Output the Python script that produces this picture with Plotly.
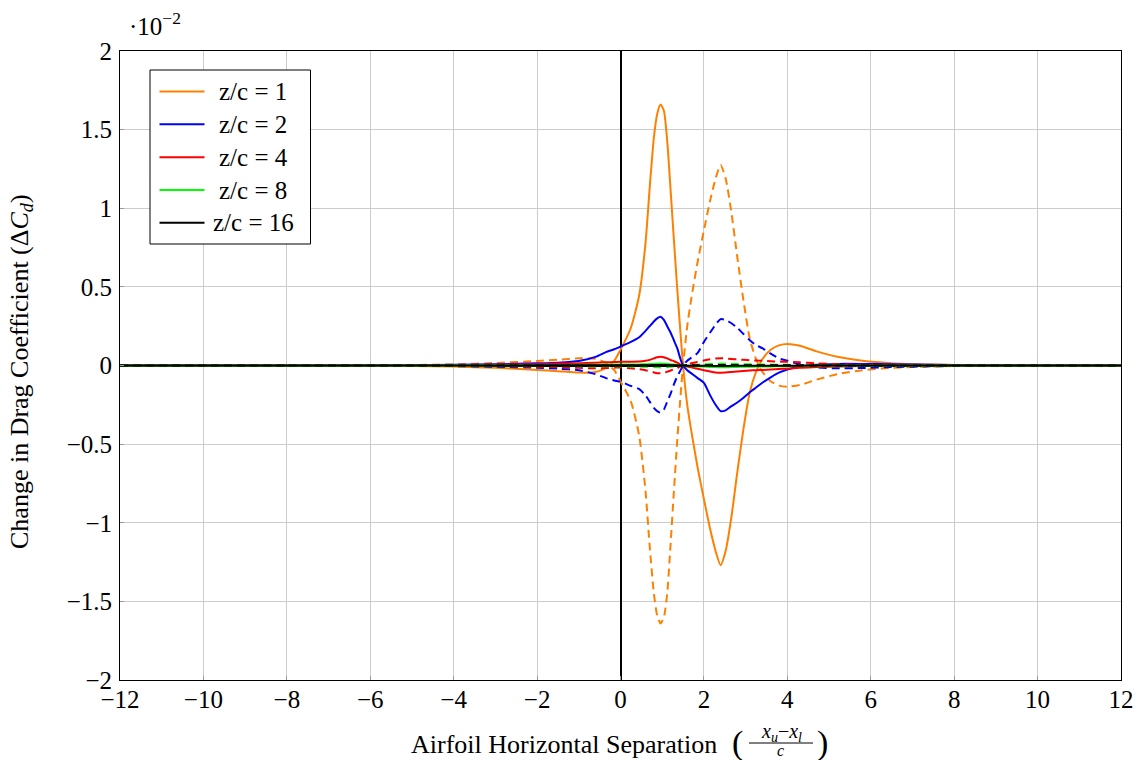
import plotly.graph_objects as go

# Horizontal separation (x_u - x_l)/c
x_sep = [-12, -10, -8, -6, -5, -4, -3, -2, -1.5, -1, -0.6, -0.35, -0.15, 0, 0.25, 0.45, 0.6, 0.7,
         0.8, 0.88, 0.96, 1.04, 1.12, 1.2, 1.28, 1.36, 1.44, 1.5, 1.6, 1.7, 1.85, 2.0, 2.15, 2.28,
         2.4, 2.52, 2.65, 2.8, 2.95, 3.1, 3.25, 3.4, 3.6, 3.8, 4.0, 4.3, 4.7, 5.2, 5.8, 6.5, 7.5,
         8.5, 10, 12]

# Change in drag coefficient (x 1e-2), solid = upper airfoil, dashed = lower airfoil
zc1_solid = [0, 0, 0, -0.001, -0.003, -0.007, -0.015, -0.028, -0.036, -0.045, -0.042, -0.015, 0.03,
             0.1, 0.24, 0.45, 0.78, 1.13, 1.45, 1.6, 1.66, 1.62, 1.43, 1.12, 0.8, 0.49, 0.2, 0.0,
             -0.25, -0.42, -0.65, -0.85, -1.04, -1.18, -1.27, -1.18, -0.98, -0.68, -0.40, -0.17,
             -0.04, 0.04, 0.10, 0.128, 0.137, 0.125, 0.09, 0.055, 0.03, 0.015, 0.006, 0.002, 0, 0]
zc1_dashed = [0, 0, 0, 0.001, 0.003, 0.007, 0.016, 0.029, 0.037, 0.046, 0.043, 0.016, -0.03,
              -0.1, -0.23, -0.45, -0.8, -1.15, -1.45, -1.59, -1.64, -1.6, -1.45, -1.14, -0.8,
              -0.48, -0.19, 0.0, 0.25, 0.43, 0.66, 0.86, 1.05, 1.19, 1.275, 1.19, 0.99, 0.69, 0.41,
              0.17, 0.04, -0.04, -0.10, -0.128, -0.135, -0.124, -0.09, -0.055, -0.03, -0.015,
              -0.006, -0.002, 0, 0]

zc2_solid = [0, 0, 0, 0.001, 0.002, 0.004, 0.008, 0.014, 0.018, 0.028, 0.055, 0.085, 0.103, 0.12,
             0.15, 0.18, 0.22, 0.25, 0.28, 0.30, 0.31, 0.29, 0.25, 0.21, 0.16, 0.11, 0.04, 0.0,
             -0.03, -0.05, -0.08, -0.11, -0.19, -0.25, -0.29, -0.285, -0.26, -0.235, -0.205,
             -0.17, -0.14, -0.11, -0.075, -0.045, -0.025, -0.008, 0.005, 0.01, 0.01, 0.008,
             0.004, 0.002, 0, 0]
zc2_dashed = [0, 0, 0, -0.001, -0.002, -0.004, -0.008, -0.014, -0.02, -0.03, -0.055, -0.08,
              -0.095, -0.103, -0.13, -0.15, -0.19, -0.23, -0.27, -0.29, -0.30, -0.28, -0.23,
              -0.18, -0.12, -0.07, -0.03, 0.0, 0.03, 0.05, 0.08, 0.15, 0.21, 0.26, 0.295, 0.29,
              0.27, 0.24, 0.2, 0.16, 0.13, 0.11, 0.075, 0.045, 0.03, 0.008, -0.012, -0.018,
              -0.016, -0.01, -0.005, -0.002, 0, 0]

zc4_solid = [0, 0, 0, 0, 0.001, 0.002, 0.004, 0.008, 0.012, 0.015, 0.018, 0.02, 0.022, 0.024,
             0.024, 0.025, 0.03, 0.036, 0.045, 0.052, 0.056, 0.053, 0.045, 0.035, 0.027, 0.018,
             0.006, 0.0, -0.006, -0.012, -0.02, -0.03, -0.038, -0.044, -0.046, -0.045, -0.042,
             -0.038, -0.035, -0.032, -0.03, -0.028, -0.025, -0.022, -0.02, -0.015, -0.01,
             -0.006, -0.003, -0.001, 0, 0, 0, 0]
zc4_dashed = [0, 0, 0, 0, -0.001, -0.002, -0.004, -0.008, -0.012, -0.015, -0.018, -0.016,
              -0.014, -0.012, -0.018, -0.024, -0.03, -0.036, -0.044, -0.049, -0.05, -0.047,
              -0.04, -0.032, -0.024, -0.016, -0.006, 0.0, 0.008, 0.014, 0.022, 0.032, 0.04,
              0.045, 0.046, 0.045, 0.042, 0.039, 0.036, 0.034, 0.032, 0.03, 0.027, 0.025, 0.024,
              0.02, 0.014, 0.008, 0.004, 0.001, 0, 0, 0, 0]

zc8_solid = [0, 0, 0, 0, 0, 0.001, 0.001, 0.002, 0.003, 0.004, 0.005, 0.006, 0.006, 0.007,
             0.007, 0.007, 0.008, 0.009, 0.01, 0.011, 0.012, 0.011, 0.01, 0.008, 0.006, 0.004,
             0.001, 0.0, -0.002, -0.003, -0.005, -0.007, -0.009, -0.01, -0.011, -0.011, -0.01,
             -0.009, -0.008, -0.008, -0.007, -0.006, -0.006, -0.005, -0.004, -0.003, -0.002,
             -0.001, 0, 0, 0, 0, 0, 0]
zc8_dashed = [0, 0, 0, 0, 0, -0.001, -0.001, -0.002, -0.003, -0.004, -0.005, -0.005, -0.005,
              -0.005, -0.006, -0.007, -0.008, -0.009, -0.01, -0.011, -0.012, -0.011, -0.01,
              -0.008, -0.006, -0.004, -0.001, 0.0, 0.002, 0.003, 0.005, 0.007, 0.009, 0.01,
              0.011, 0.011, 0.01, 0.009, 0.008, 0.008, 0.007, 0.006, 0.006, 0.005, 0.004, 0.003,
              0.002, 0.001, 0, 0, 0, 0, 0, 0]

zc16_solid = [0, 0, 0, 0, 0, 0, 0, 0.001, 0.001, 0.001, 0.001, 0.001, 0.002, 0.002, 0.002,
              0.002, 0.002, 0.002, 0.003, 0.003, 0.003, 0.003, 0.002, 0.002, 0.001, 0.001, 0,
              0, -0.001, -0.001, -0.001, -0.002, -0.002, -0.003, -0.003, -0.003, -0.002, -0.002,
              -0.002, -0.002, -0.002, -0.001, -0.001, -0.001, -0.001, -0.001, 0, 0, 0, 0, 0, 0,
              0, 0]
zc16_dashed = [0, 0, 0, 0, 0, 0, 0, -0.001, -0.001, -0.001, -0.001, -0.001, -0.002, -0.002,
               -0.002, -0.002, -0.002, -0.002, -0.003, -0.003, -0.003, -0.003, -0.002, -0.002,
               -0.001, -0.001, 0, 0, 0.001, 0.001, 0.001, 0.002, 0.002, 0.003, 0.003, 0.003,
               0.002, 0.002, 0.002, 0.002, 0.002, 0.001, 0.001, 0.001, 0.001, 0.001, 0, 0, 0,
               0, 0, 0, 0, 0]

series_names = ["z/c = 1", "z/c = 2", "z/c = 4", "z/c = 8", "z/c = 16"]
series_colors = ["#ff8000", "#0000ff", "#ff0000", "#00ff00", "#000000"]
solid_values = [zc1_solid, zc2_solid, zc4_solid, zc8_solid, zc16_solid]
dashed_values = [zc1_dashed, zc2_dashed, zc4_dashed, zc8_dashed, zc16_dashed]

x_ticks = list(range(-12, 13, 2))
x_tick_text = [("\u2212" + str(-t)) if t < 0 else str(t) for t in x_ticks]
y_ticks = [-2, -1.5, -1, -0.5, 0, 0.5, 1, 1.5, 2]
y_tick_text = [("\u2212" + ("%g" % -t)) if t < 0 else ("%g" % t) for t in y_ticks]

FONT = "Liberation Serif"

fig = go.Figure()
for name, color, solid, dashed in zip(series_names, series_colors, solid_values, dashed_values):
    fig.add_trace(go.Scatter(x=x_sep, y=solid, mode="lines", name=name,
                             line=dict(color=color, width=2, shape="spline", smoothing=0.6),
                             legendgroup=name, showlegend=False))
    fig.add_trace(go.Scatter(x=x_sep, y=dashed, mode="lines", name=name, showlegend=False,
                             line=dict(color=color, width=2, dash="8px,5px", shape="spline",
                                       smoothing=0.6),
                             legendgroup=name))

L, R, T, B = 120, 20, 51, 80
W, H = 1141, 760
pw, ph = W - L - R, H - T - B


def px_to_paper_x(px):
    return (px - L) / pw


def py_to_paper_y(py):
    return (H - B - py) / ph


def text_ann(text, px, py, size, xanchor="center", angle=0):
    return dict(text=text, x=px_to_paper_x(px), y=py_to_paper_y(py), xref="paper",
                yref="paper", xanchor=xanchor, yanchor="middle", showarrow=False,
                textangle=angle, font=dict(family=FONT, size=size, color="black"))


annotations = [
    text_ann("\u00b710<sup>\u22122</sup>", 127, 24, 25, xanchor="left"),
    text_ann("Airfoil Horizontal Separation", 719, 744, 26, xanchor="right"),
    text_ann("(", 737, 743, 34),
    text_ann(")", 822, 743, 34),
    text_ann("<i>x</i><sub><i>u</i></sub>\u2212<i>x</i><sub><i>l</i></sub>", 781, 732, 20),
    text_ann("<i>c</i>", 780, 750, 16),
    text_ann("Change in Drag Coefficient (\u0394<i>C</i><sub><i>d</i></sub>)", 21, 372, 26,
             angle=-90),
]

shapes = [
    dict(type="line", xref="paper", yref="paper", x0=px_to_paper_x(749), x1=px_to_paper_x(813),
         y0=py_to_paper_y(743), y1=py_to_paper_y(743), line=dict(color="black", width=1)),
    # legend box
    dict(type="rect", xref="paper", yref="paper", layer="above",
         x0=px_to_paper_x(150), x1=px_to_paper_x(310.5), y0=py_to_paper_y(70),
         y1=py_to_paper_y(244), fillcolor="white", line=dict(color="black", width=1)),
]

legend_rows_py = [91.5, 124.3, 157.2, 190, 222.7]
for name, color, py in zip(series_names, series_colors, legend_rows_py):
    shapes.append(dict(type="line", xref="paper", yref="paper", layer="above",
                       x0=px_to_paper_x(159.5), x1=px_to_paper_x(204.5),
                       y0=py_to_paper_y(py), y1=py_to_paper_y(py),
                       line=dict(color=color, width=2)))
    annotations.append(text_ann(name, 253, py, 25))

fig.update_layout(
    width=W, height=H,
    margin=dict(l=L, r=R, t=T, b=B, autoexpand=False),
    paper_bgcolor="white", plot_bgcolor="white",
    font=dict(family=FONT, size=25, color="black"),
    showlegend=False,
    annotations=annotations,
    shapes=shapes,
    xaxis=dict(range=[-12, 12], tickvals=x_ticks, ticktext=x_tick_text, showgrid=True,
               gridcolor="#cccccc", gridwidth=1, zeroline=True, zerolinecolor="black",
               zerolinewidth=2, showline=True, linecolor="black", linewidth=1, mirror=True,
               ticks="inside", ticklen=4, tickcolor="#999999", automargin=False,
               ticklabelstandoff=-3,
               tickfont=dict(family=FONT, size=25)),
    yaxis=dict(range=[-2, 2], tickvals=y_ticks, ticktext=y_tick_text, showgrid=True,
               gridcolor="#cccccc", gridwidth=1, zeroline=True, zerolinecolor="black",
               zerolinewidth=2, showline=True, linecolor="black", linewidth=1, mirror=True,
               ticks="inside", ticklen=4, tickcolor="#999999", automargin=False,
               ticklabelstandoff=2,
               tickfont=dict(family=FONT, size=25)),
)

fig.write_html("out.html")
